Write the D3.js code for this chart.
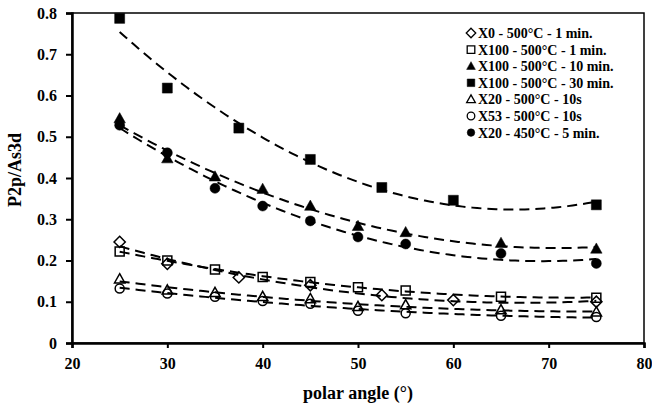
<!DOCTYPE html>
<html>
<head>
<meta charset="utf-8">
<script src="https://cdn.jsdelivr.net/npm/d3@7"></script>
<style>
  body { margin: 0; background: #fff; }
  svg { display: block; }
  text { font-family: "Liberation Serif", "Times New Roman", serif; font-weight: bold; fill: #000; }
</style>
</head>
<body>
<div id="chart"></div>
<script>
// Data.
const seriesNames = [
  'X0 - 500°C - 1 min.',
  'X100 - 500°C - 1 min.',
  'X100 - 500°C - 10 min.',
  'X100 - 500°C - 30 min.',
  'X20 - 500°C - 10s',
  'X53 - 500°C - 10s',
  'X20 - 450°C - 5 min.'
];
const anglesA = [25, 30, 37.5, 45, 52.5, 60, 75];
const anglesB = [25, 30, 35, 40, 45, 50, 55, 65, 75];

const x0Min1 = [0.245, 0.192, 0.159, 0.140, 0.116, 0.104, 0.100];
const x100Min1 = [0.222, 0.200, 0.178, 0.160, 0.148, 0.135, 0.127, 0.112, 0.110];
const x100Min10 = [0.544, 0.447, 0.403, 0.373, 0.332, 0.283, 0.268, 0.242, 0.228];
const x100Min30 = [0.787, 0.618, 0.521, 0.445, 0.377, 0.346, 0.335];
const x20s10 = [0.155, 0.128, 0.122, 0.112, 0.107, 0.088, 0.092, 0.080, 0.075];
const x53s10 = [0.132, 0.120, 0.112, 0.102, 0.095, 0.078, 0.072, 0.066, 0.063];
const x20Min5 = [0.528, 0.461, 0.375, 0.332, 0.296, 0.257, 0.240, 0.217, 0.193];

const xTicks = [20, 30, 40, 50, 60, 70, 80];
const yTicks = [0, 0.1, 0.2, 0.3, 0.4, 0.5, 0.6, 0.7, 0.8];

const series = [
  {name: seriesNames[0], xs: anglesA, ys: x0Min1, shape: 'diamond', filled: false},
  {name: seriesNames[1], xs: anglesB, ys: x100Min1, shape: 'square', filled: false},
  {name: seriesNames[2], xs: anglesB, ys: x100Min10, shape: 'triangle', filled: true},
  {name: seriesNames[3], xs: anglesA, ys: x100Min30, shape: 'square', filled: true},
  {name: seriesNames[4], xs: anglesB, ys: x20s10, shape: 'triangle', filled: false},
  {name: seriesNames[5], xs: anglesB, ys: x53s10, shape: 'circle', filled: false},
  {name: seriesNames[6], xs: anglesB, ys: x20Min5, shape: 'circle', filled: true}
];

// Chart size and margins.
const W = 652, H = 405;
const margin = {top: 13, right: 8, bottom: 62, left: 72};
const width = W - margin.left - margin.right;
const height = H - margin.top - margin.bottom;

const svg = d3.select('#chart').append('svg')
  .attr('width', W)
  .attr('height', H);
const g = svg.append('g')
  .attr('transform', `translate(${margin.left},${margin.top})`);

const x = d3.scaleLinear().domain([20, 80]).range([0, width]);
const y = d3.scaleLinear().domain([0, 0.8]).range([height, 0]);

// Plot frame (top and right edges).
g.append('rect')
  .attr('width', width)
  .attr('height', height)
  .attr('fill', 'none')
  .attr('stroke', '#000')
  .attr('stroke-width', 1.5);

// Axes.
const xAxis = g.append('g')
  .attr('transform', `translate(0,${height})`)
  .call(d3.axisBottom(x).tickValues(xTicks).tickSize(5).tickPadding(10).tickFormat(d3.format('d')));
const yAxis = g.append('g')
  .call(d3.axisLeft(y).tickValues(yTicks).tickSize(6).tickPadding(9)
    .tickFormat(d => d === 0 ? '0' : d3.format('.1f')(d)));
[xAxis, yAxis].forEach(a => {
  a.select('.domain').attr('stroke-width', 2.5);
  a.selectAll('.tick line').attr('stroke-width', 2);
  a.selectAll('text').style('font-size', '16px').style('font-weight', 'bold');
});

// Axis titles.
svg.append('text')
  .attr('x', margin.left + width / 2)
  .attr('y', 399)
  .attr('text-anchor', 'middle')
  .style('font-size', '18px')
  .text('polar angle (°)');
svg.append('text')
  .attr('transform', `translate(21,${margin.top + height / 2 - 8}) rotate(-90)`)
  .attr('text-anchor', 'middle')
  .style('font-size', '18px')
  .text('P2p/As3d');

// Quadratic least squares trendline, as in the source spreadsheet.
function quadFit(xs, ys) {
  const s = [0, 0, 0, 0, 0], t = [0, 0, 0];
  xs.forEach((xv, i) => {
    for (let k = 0; k < 5; k++) s[k] += Math.pow(xv, k);
    for (let k = 0; k < 3; k++) t[k] += ys[i] * Math.pow(xv, k);
  });
  const A = [[s[0], s[1], s[2], t[0]], [s[1], s[2], s[3], t[1]], [s[2], s[3], s[4], t[2]]];
  for (let i = 0; i < 3; i++) {
    for (let j = i + 1; j < 3; j++) {
      const f = A[j][i] / A[i][i];
      for (let k = i; k < 4; k++) A[j][k] -= f * A[i][k];
    }
  }
  const c = [0, 0, 0];
  for (let i = 2; i >= 0; i--) {
    let v = A[i][3];
    for (let k = i + 1; k < 3; k++) v -= A[i][k] * c[k];
    c[i] = v / A[i][i];
  }
  return xv => c[0] + c[1] * xv + c[2] * xv * xv;
}

function shapePath(shape, r) {
  if (shape === 'square') return `M${-r},${-r}H${r}V${r}H${-r}Z`;
  if (shape === 'diamond') return `M0,${-r * 1.25}L${r * 1.25},0L0,${r * 1.25}L${-r * 1.25},0Z`;
  if (shape === 'triangle') return `M0,${-r * 1.2}L${r * 1.15},${r * 0.85}L${-r * 1.15},${r * 0.85}Z`;
  return `M${r},0A${r},${r} 0 1,1 ${-r},0A${r},${r} 0 1,1 ${r},0Z`;
}

const line = d3.line().x(d => x(d[0])).y(d => y(d[1])).curve(d3.curveLinear);

series.forEach(s => {
  const f = quadFit(s.xs, s.ys);
  const lo = d3.min(s.xs), hi = d3.max(s.xs);
  const pts = d3.range(0, 101).map(i => {
    const xv = lo + (hi - lo) * i / 100;
    return [xv, f(xv)];
  });
  g.append('path')
    .datum(pts)
    .attr('fill', 'none')
    .attr('stroke', '#000')
    .attr('stroke-width', 2)
    .attr('stroke-dasharray', '10,6')
    .attr('d', line);
});

series.forEach(s => {
  g.append('g').selectAll('path')
    .data(s.xs.map((xv, i) => [xv, s.ys[i]]))
    .join('path')
      .attr('transform', d => `translate(${x(d[0])},${y(d[1])})`)
      .attr('d', shapePath(s.shape, s.filled ? 5 : 4.5))
      .attr('fill', s.filled ? '#000' : '#fff')
      .attr('fill-opacity', s.filled ? 1 : 0)
      .attr('stroke', '#000')
      .attr('stroke-width', s.filled ? 0.5 : 1.5);
});

// Legend.
const legend = svg.append('g');
series.forEach((s, i) => {
  const ly = 33 + i * 16.6;
  legend.append('path')
    .attr('transform', `translate(471,${ly})`)
    .attr('d', shapePath(s.shape, 3.8))
    .attr('fill', s.filled ? '#000' : 'none')
    .attr('stroke', '#000')
    .attr('stroke-width', s.filled ? 0.5 : 1.3);
  legend.append('text')
    .attr('x', 478)
    .attr('y', ly)
    .attr('dy', '0.35em')
    .style('font-size', '14px')
    .text(s.name);
});
</script>
</body>
</html>
